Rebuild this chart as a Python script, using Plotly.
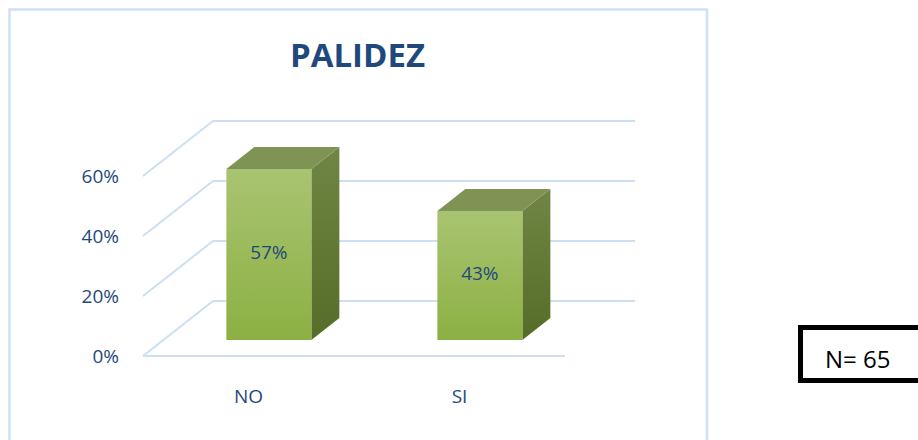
import plotly.graph_objects as go

# ---- data ----
categories = ["NO", "SI"]
values = [57, 43]            # percent
value_labels = ["57%", "43%"]
ytick_vals = [0, 20, 40, 60]
ytick_text = ["0%", "20%", "40%", "60%"]
title_text = "PALIDEZ"
note_text = "N= 65"

# ---- layout geometry (px) ----
W, H = 918, 440
L, R, T, B = 120, 700, 100, 380          # plot area in px
PX_PER_CAT = 211.0
PX_PER_PCT = 3.0
X_FRONT_LEFT_PX = 143.0
Y_ZERO_PX = 356.0

x0 = -0.5 - (X_FRONT_LEFT_PX - L) / PX_PER_CAT
x1 = -0.5 + (R - X_FRONT_LEFT_PX) / PX_PER_CAT
y1 = (Y_ZERO_PX - T) / PX_PER_PCT
y0 = (Y_ZERO_PX - B) / PX_PER_PCT

# oblique depth offset for full depth (data units)
DX = 70.0 / PX_PER_CAT
DY = 55.0 / PX_PER_PCT
BAR_D0 = 16.0 / 55.0     # bar front depth fraction
BAR_DD = 0.4             # bar depth thickness fraction
BAR_W = 85.0 / PX_PER_CAT

def proj(x, v, d):
    return x + d * DX, v + d * DY

GRID = "#cddff3"
BLUE = "#1F497D"

fig = go.Figure()

# ---- walls / gridlines ----
n = len(categories)
left, right = -0.5, n - 0.5
xa, ya = proj(left, 0, 0)
xb, yb = proj(right, 0, 0)
fig.add_trace(go.Scatter(x=[xa, xb], y=[ya, yb], mode="lines",
                         line=dict(color=GRID, width=2), hoverinfo="skip", showlegend=False))
for v in ytick_vals:
    p0 = proj(left, v, 0)
    p1 = proj(left, v, 1)
    p2 = proj(right, v, 1)
    fig.add_trace(go.Scatter(x=[p0[0], p1[0], p2[0]], y=[p0[1], p1[1], p2[1]], mode="lines",
                             line=dict(color=GRID, width=2), hoverinfo="skip", showlegend=False))

# ---- 3D bars ----
for i, v in enumerate(values):
    xl = i - BAR_W / 2
    xr = i + BAR_W / 2
    fa = BAR_D0
    fb = BAR_D0 + BAR_DD
    f_bl = proj(xl, 0, fa); f_br = proj(xr, 0, fa)
    f_tr = proj(xr, v, fa); f_tl = proj(xl, v, fa)
    b_tl = proj(xl, v, fb); b_tr = proj(xr, v, fb); b_br = proj(xr, 0, fb)
    # side face
    fig.add_trace(go.Scatter(
        x=[f_br[0], f_tr[0], b_tr[0], b_br[0], f_br[0]],
        y=[f_br[1], f_tr[1], b_tr[1], b_br[1], f_br[1]],
        mode="lines", line=dict(width=0), fill="toself",
        fillgradient=dict(type="vertical", start=f_br[1], stop=b_tr[1],
                          colorscale=[[0, "#566d29"], [1, "#6f8644"]]),
        hoverinfo="skip", showlegend=False))
    # top face
    fig.add_trace(go.Scatter(
        x=[f_tl[0], f_tr[0], b_tr[0], b_tl[0], f_tl[0]],
        y=[f_tl[1], f_tr[1], b_tr[1], b_tl[1], f_tl[1]],
        mode="lines", line=dict(width=0), fill="toself", fillcolor="#7f9454",
        hoverinfo="skip", showlegend=False))
    # front face
    fig.add_trace(go.Scatter(
        x=[f_bl[0], f_br[0], f_tr[0], f_tl[0], f_bl[0]],
        y=[f_bl[1], f_br[1], f_tr[1], f_tl[1], f_bl[1]],
        mode="lines", line=dict(width=0), fill="toself",
        fillgradient=dict(type="vertical", start=f_bl[1], stop=f_tl[1],
                          colorscale=[[0, "#8cb043"], [1, "#a9c471"]]),
        hoverinfo="skip", showlegend=False))

# data labels at middle of front faces
lx = [i + BAR_D0 * DX for i in range(n)]
ly = [v / 2 + BAR_D0 * DY for v in values]
fig.add_trace(go.Scatter(x=lx, y=ly, mode="text", text=value_labels,
                         textfont=dict(family="Open Sans", size=19, color=BLUE),
                         hoverinfo="skip", showlegend=False))

def px_to_paper_x(px):
    return (px - L) / (R - L)

def py_to_paper_y(py):
    return (B - py) / (B - T)

shapes = [
    dict(type="rect", xref="paper", yref="paper",
         x0=px_to_paper_x(9.5), x1=px_to_paper_x(707), y0=py_to_paper_y(460), y1=py_to_paper_y(9.5),
         line=dict(color="#d0e0f3", width=2.5), fillcolor="rgba(0,0,0,0)", layer="below"),
    dict(type="rect", xref="paper", yref="paper",
         x0=px_to_paper_x(800.5), x1=px_to_paper_x(930), y0=py_to_paper_y(380.5), y1=py_to_paper_y(327.5),
         line=dict(color="black", width=5), fillcolor="white"),
]

annotations = [
    dict(text=note_text, xref="paper", yref="paper", x=px_to_paper_x(857.5), y=py_to_paper_y(358),
         showarrow=False, xanchor="center", yanchor="middle",
         font=dict(family="Open Sans", size=24, color="black")),
]

fig.update_layout(
    width=W, height=H,
    margin=dict(l=L, r=W - R, t=T, b=H - B),
    paper_bgcolor="white", plot_bgcolor="rgba(0,0,0,0)",
    title=dict(text="<b>" + title_text + "</b>", xref="container", yref="container",
               x=357.5 / W, y=1 - 55 / H, xanchor="center", yanchor="middle",
               font=dict(family="Open Sans", size=33, color=BLUE)),
    xaxis=dict(range=[x0, x1], tickvals=list(range(n)), ticktext=categories,
               showgrid=False, zeroline=False, showline=False, ticks="",
               ticklabelstandoff=3,
               tickfont=dict(family="Open Sans", size=19, color=BLUE), fixedrange=True),
    yaxis=dict(range=[y0, y1], tickvals=ytick_vals, ticktext=ytick_text,
               showgrid=False, zeroline=False, showline=False, ticks="",
               tickfont=dict(family="Open Sans", size=19, color=BLUE), fixedrange=True),
    shapes=shapes, annotations=annotations,
    showlegend=False,
)

fig.write_html("out.html", config={"displayModeBar": False},
               post_script="document.body.style.margin='0';document.body.style.overflow='hidden';")
